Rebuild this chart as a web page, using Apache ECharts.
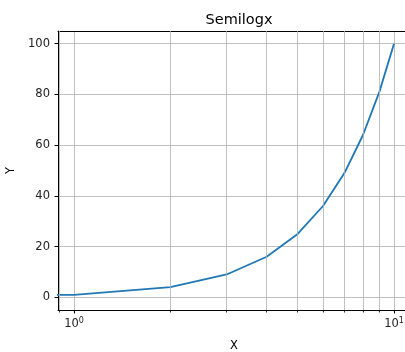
<!DOCTYPE html>
<html>
<head>
<meta charset="utf-8">
<script src="https://cdn.jsdelivr.net/npm/echarts@6/dist/echarts.min.js"></script>
<style>html,body{margin:0;padding:0;background:#fff;overflow:hidden;}#c{width:405px;height:352px;}</style>
</head>
<body>
<div id="c"></div>
<script>
// data
var xValues = [0, 1, 2, 3, 4, 5, 6, 7, 8, 9, 10];
var yValues = [0, 1, 4, 9, 16, 25, 36, 49, 64, 81, 100];
var xMajorTicks = [1, 10];
var xMinorTicks = [0.9, 2, 3, 4, 5, 6, 7, 8, 9];
var yTicks = [0, 20, 40, 60, 80, 100];

// matplotlib-like clipping of non-positive values on a log axis
var seriesData = xValues.map(function (x, i) {
  return [x > 0 ? x : 1e-300, yValues[i]];
});

var xMin = Math.pow(10, -0.05), xMax = Math.pow(10, 1.05);
var font = 'DejaVu Sans';
var gridColor = '#b0b0b0';

var chart = echarts.init(document.getElementById('c'), null, {renderer: 'canvas'});
chart.setOption({
  animation: false,
  backgroundColor: '#fff',
  title: {
    text: 'Semilogx', left: 234, top: 8, textAlign: 'center',
    textStyle: {fontFamily: font, fontSize: 14.5, fontWeight: 'normal', color: '#000'}
  },
  grid: {left: 58, right: -5, top: 31, bottom: 42, show: false,
         containLabel: false, outerBoundsMode: 'none'},
  xAxis: [{
    type: 'log', logBase: 10, min: xMin, max: xMax, position: 'bottom',
    name: 'X', nameLocation: 'middle', nameGap: 30,
    nameTextStyle: {fontFamily: font, fontSize: 11.5, color: '#000'},
    axisLine: {show: true, onZero: false, lineStyle: {color: '#000', width: 1}},
    axisTick: {show: true, customValues: xMajorTicks, length: 3.5, lineStyle: {color: '#000', width: 1}},
    axisLabel: {
      customValues: xMajorTicks, margin: 7,
      formatter: function (v) { return '{b|10}{s|' + Math.round(Math.log10(v)) + '}'; },
      rich: {
        b: {fontFamily: font, fontSize: 11.5, color: '#222'},
        s: {fontFamily: font, fontSize: 8, color: '#222', padding: [0, 0, 7, 0]}
      }
    },
    splitLine: {show: true, lineStyle: {color: gridColor, width: 0.8}},
    minorTick: {show: false}, minorSplitLine: {show: false}
  }, {
    type: 'log', logBase: 10, min: xMin, max: xMax, position: 'bottom',
    axisLine: {show: false, onZero: false},
    axisTick: {show: true, customValues: xMinorTicks, length: 2.5, lineStyle: {color: '#000', width: 0.8}},
    axisLabel: {show: false},
    splitLine: {show: false}
  }, {
    type: 'log', logBase: 10, min: xMin, max: xMax, position: 'top',
    axisLine: {show: true, onZero: false, lineStyle: {color: '#000', width: 1}},
    axisTick: {show: false}, axisLabel: {show: false}, splitLine: {show: false}
  }],
  yAxis: {
    type: 'value', min: -5, max: 105,
    name: 'Y', nameLocation: 'middle', nameGap: 40, nameRotate: 90,
    nameTextStyle: {fontFamily: font, fontSize: 11.5, color: '#000'},
    axisLine: {show: true, onZero: false, lineStyle: {color: '#000', width: 1}},
    axisTick: {show: true, customValues: yTicks, length: 3.5, lineStyle: {color: '#000', width: 1}},
    axisLabel: {customValues: yTicks, margin: 8, fontFamily: font, fontSize: 11.5, color: '#222'},
    splitLine: {show: true, lineStyle: {color: gridColor, width: 0.8}}
  },
  series: [{
    type: 'line', xAxisIndex: 0, data: [], z: 1, silent: true,
    markLine: {
      silent: true, symbol: 'none', label: {show: false},
      lineStyle: {color: gridColor, width: 0.8, type: 'solid'},
      data: xMinorTicks.map(function (v) { return {xAxis: v}; })
    }
  }, {
    type: 'line', xAxisIndex: 0, data: seriesData, showSymbol: false, symbol: 'none', z: 3,
    clip: true, lineStyle: {color: '#1f77b4', width: 1.8}, itemStyle: {color: '#1f77b4'}
  }]
});
</script>
</body>
</html>
